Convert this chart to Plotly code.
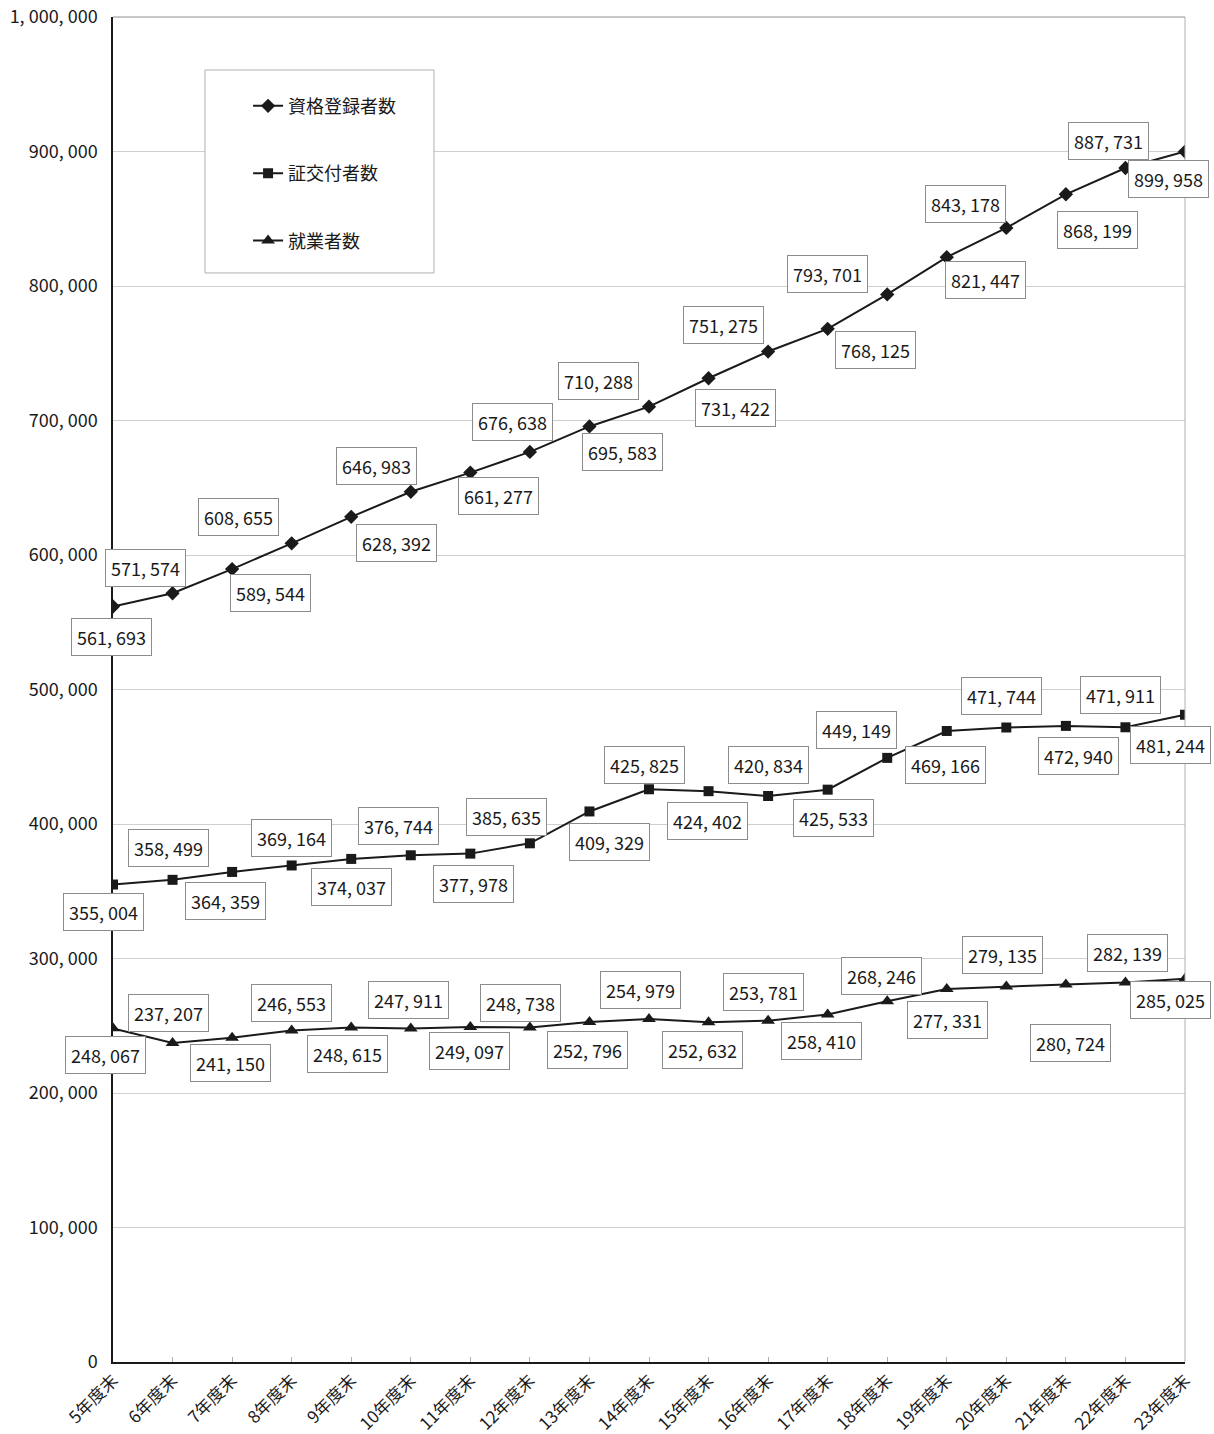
import plotly.graph_objects as go

categories = ["5年度末", "6年度末", "7年度末", "8年度末", "9年度末", "10年度末", "11年度末",
              "12年度末", "13年度末", "14年度末", "15年度末", "16年度末", "17年度末", "18年度末",
              "19年度末", "20年度末", "21年度末", "22年度末", "23年度末"]

registered = [561693, 571574, 589544, 608655, 628392, 646983, 661277, 676638, 695583, 710288,
              731422, 751275, 768125, 793701, 821447, 843178, 868199, 887731, 899958]
certified = [355004, 358499, 364359, 369164, 374037, 376744, 377978, 385635, 409329, 425825,
             424402, 420834, 425533, 449149, 469166, 471744, 472940, 471911, 481244]
employed = [248067, 237207, 241150, 246553, 248615, 247911, 249097, 248738, 252796, 254979,
            252632, 253781, 258410, 268246, 277331, 279135, 280724, 282139, 285025]

series_names = ["資格登録者数", "証交付者数", "就業者数"]

ytick_vals = [0, 100000, 200000, 300000, 400000, 500000, 600000, 700000, 800000, 900000, 1000000]
ytick_text = ["0", "100, 000", "200, 000", "300, 000", "400, 000", "500, 000", "600, 000",
              "700, 000", "800, 000", "900, 000", "1, 000, 000"]

# label offsets in pixels (dx right, dy down) - layout only
off_reg = [(-2, 30), (-27, -25), (38, 24), (-53, -26), (45, 26), (-34, -26), (28, 23), (-17, -30),
           (33, 26), (-51, -26), (27, 30), (-45, -27), (48, 21), (-60, -20), (39, 23), (-41, -24),
           (32, 36), (-17, -27), (-17, 27)]
off_cer = [(-10, 27), (-4, -32), (-7, 29), (0, -27), (0, 28), (-12, -29), (3, 30), (-23, -26),
           (20, 31), (-5, -24), (-1, 30), (0, -31), (6, 28), (-31, -28), (-1, 34), (-5, -32),
           (13, 30), (-5, -32), (-15, 30)]
off_emp = [(-8, 27), (-4, -30), (-2, 25), (0, -27), (-4, 26), (-2, -29), (-1, 24), (-9, -24),
           (-2, 28), (-9, -29), (-6, 28), (-5, -29), (-6, 27), (-6, -25), (1, 31), (-4, -32),
           (5, 59), (2, -30), (-15, 21)]

FONT = "Noto Sans CJK JP"

fig = go.Figure()
symbols = ["diamond", "square", "triangle-up"]
sizes = [11, 10, 12]
for i, (name, vals) in enumerate(zip(series_names, [registered, certified, employed])):
    fig.add_trace(go.Scatter(
        x=categories, y=vals, name=name, mode="lines+markers",
        line=dict(color="#1a1a1a", width=2),
        marker=dict(symbol=symbols[i], size=sizes[i], color="#1a1a1a"),
        legendgroup=name,
    ))

def fmt(v):
    return f"{v:,}".replace(",", ", ")

annotations = []
for vals, offs in [(registered, off_reg), (certified, off_cer), (employed, off_emp)]:
    for c, v, (dx, dy) in zip(categories, vals, offs):
        annotations.append(dict(
            x=c, y=v, xref="x", yref="y", text=fmt(v), showarrow=False,
            xshift=dx, yshift=-dy, xanchor="center", yanchor="middle",
            font=dict(family=FONT, size=18, color="#1a1a1a"),
            bgcolor="white", bordercolor="#8c8c8c", borderwidth=1, borderpad=5,
        ))

shapes = [
    dict(type="line", xref="paper", yref="paper", x0=1, x1=1, y0=0, y1=1,
         line=dict(color="#b0b0b0", width=1)),
    dict(type="line", xref="paper", yref="paper", x0=0, x1=1, y0=1, y1=1,
         line=dict(color="#909090", width=1)),
    dict(type="rect", xref="paper", yref="paper", x0=0.0858, x1=0.2994, y0=0.8097, y1=0.9606,
         line=dict(color="#b0b0b0", width=1), fillcolor="white", layer="above"),
]

fig.update_layout(
    width=1214, height=1434,
    margin=dict(l=113, r=29, t=17, b=72),
    paper_bgcolor="white", plot_bgcolor="white",
    font=dict(family=FONT, size=18, color="#1a1a1a"),
    showlegend=True,
    legend=dict(x=0.126, y=0.9475, xanchor="left", yanchor="top",
                bgcolor="rgba(0,0,0,0)", borderwidth=0,
                font=dict(family=FONT, size=18, color="#1a1a1a"),
                traceorder="grouped", tracegroupgap=41),
    annotations=annotations,
    shapes=shapes,
    xaxis=dict(type="category", range=[0, 18], showgrid=False, showline=True,
               linecolor="#1a1a1a", linewidth=1.5, ticks="inside", ticklen=5,
               tickcolor="#b0b0b0", tickangle=-45, automargin=False,
               tickfont=dict(family=FONT, size=17, color="#1a1a1a"), zeroline=False),
    yaxis=dict(range=[0, 1000000], tickvals=ytick_vals, ticktext=ytick_text,
               showgrid=True, gridcolor="#cfcfcf", gridwidth=1, showline=True,
               linecolor="#1a1a1a", linewidth=1.5, ticks="", ticklabelstandoff=10,
               automargin=False,
               tickfont=dict(family=FONT, size=18, color="#1a1a1a"), zeroline=False),
)

fig.write_html("out.html", config={"displayModeBar": False},
               post_script="document.body.style.margin='0';")
